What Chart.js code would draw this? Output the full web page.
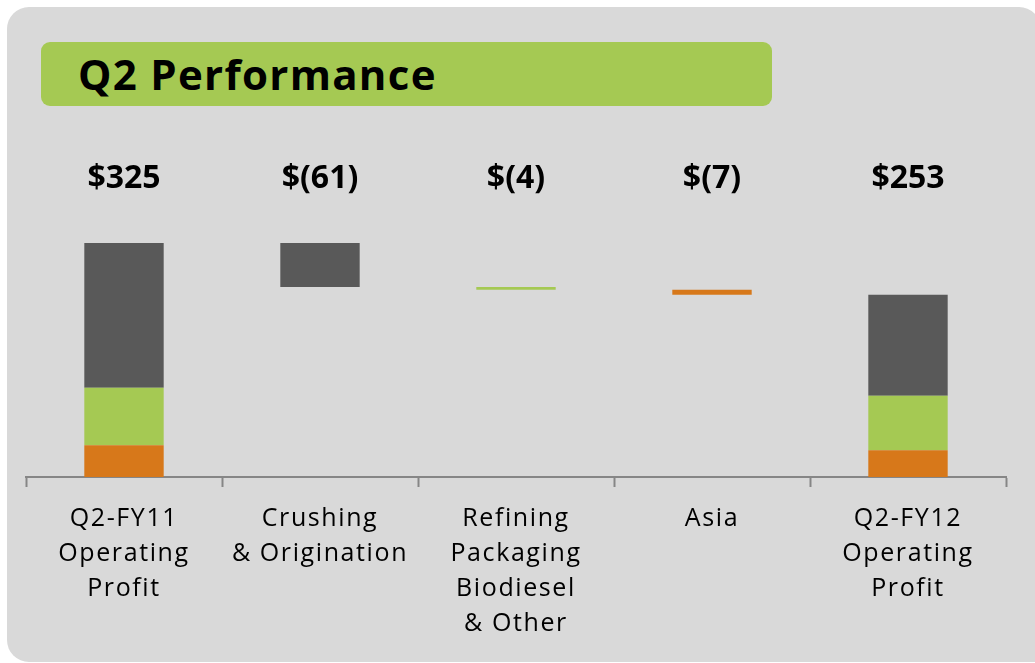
<!DOCTYPE html>
<html>
<head>
<meta charset="utf-8">
<script src="https://cdn.jsdelivr.net/npm/chart.js@4"></script>
<style>
  html, body { margin: 0; padding: 0; background: #ffffff; }
  body { width: 1035px; height: 663px; position: relative; overflow: hidden; font-family: "Open Sans", sans-serif; }
  #panel { position: absolute; left: 7px; top: 7px; width: 1034px; height: 655px; background: #d9d9d9; border-radius: 22px 22px 4px 22px; }
  #titleBox { position: absolute; left: 41px; top: 42px; width: 731px; height: 64px; background: #a5c953; border-radius: 9px; }
  #titleText { position: absolute; left: 37px; top: 0; line-height: 64px; font-size: 42px; font-weight: 700; letter-spacing: 1.3px; color: #000; white-space: nowrap; }
  #wrap { position: absolute; left: 0; top: 0; width: 1035px; height: 663px; }
</style>
</head>
<body>
<div id="panel"></div>
<div id="titleBox"><div id="titleText">Q2 Performance</div></div>
<div id="wrap"><canvas id="c" width="1035" height="663"></canvas></div>
<script>
// ---- data ----
const categories = [
  ["Q2-FY11", "Operating", "Profit"],
  ["Crushing", "& Origination"],
  ["Refining", "Packaging", "Biodiesel", "& Other"],
  ["Asia"],
  ["Q2-FY12", "Operating", "Profit"]
];
// segment order: Asia, Refining Packaging Biodiesel & Other, Crushing & Origination
const segmentNames = ["Asia", "Refining Packaging Biodiesel & Other", "Crushing & Origination"];
const fy11Segments = [44, 80, 201];   // total 325
const fy12Segments = [37, 76, 140];   // total 253
const changes = [-61, -4, -7];        // Crushing, Refining, Asia
const valueLabels = ["$325", "$(61)", "$(4)", "$(7)", "$253"];
const segmentColors = ["#d7781a", "#a5c953", "#595959"];

// ---- build floating bar table ----
const fy11Total = fy11Segments.reduce((a, b) => a + b, 0);
const changeSegment = [2, 1, 0];
const datasets = segmentNames.map((name, s) => ({
  label: name,
  data: new Array(categories.length).fill(null),
  backgroundColor: segmentColors[s],
  borderWidth: 0
}));
let base = 0;
fy11Segments.forEach((v, s) => { datasets[s].data[0] = [base, base + v]; base += v; });
let level = fy11Total;
changes.forEach((d, i) => {
  const s = changeSegment[i];
  datasets[s].data[i + 1] = [level + d, level];
  level += d;
});
base = 0;
fy12Segments.forEach((v, s) => { datasets[s].data[4] = [base, base + v]; base += v; });

const spacingPlugin = {
  id: 'spacing',
  beforeDraw(chart) { chart.ctx.letterSpacing = '1.6px'; }
};

const valueLabelPlugin = {
  id: 'valueLabels',
  afterDatasetsDraw(chart) {
    const ctx = chart.ctx;
    const xs = chart.scales.x;
    ctx.save();
    ctx.letterSpacing = '0px';
    ctx.font = 'bold 32px "Open Sans"';
    ctx.fillStyle = '#000';
    ctx.textAlign = 'center';
    ctx.textBaseline = 'middle';
    valueLabels.forEach((t, i) => {
      ctx.fillText(t, xs.getPixelForValue(i), 179);
    });
    ctx.restore();
  }
};

new Chart(document.getElementById('c'), {
  type: 'bar',
  data: { labels: categories, datasets: datasets },
  options: {
    responsive: false,
    animation: false,
    events: [],
    layout: { padding: { left: 26, right: 29, top: 189, bottom: 0 } },
    datasets: { bar: { grouped: false, categoryPercentage: 1, barPercentage: 0.405 } },
    plugins: { legend: { display: false }, tooltip: { enabled: false }, title: { display: false } },
    scales: {
      x: {
        grid: { display: true, drawOnChartArea: false, drawTicks: true, tickLength: 10, tickWidth: 2, tickColor: '#868686', offset: true },
        border: { display: true, color: '#868686', width: 2 },
        ticks: { color: '#000', font: { family: '"Open Sans"', size: 25, lineHeight: 1.4 }, padding: 14, maxRotation: 0, autoSkip: false },
        afterFit: (scale) => { scale.height = 186; }
      },
      y: {
        display: false,
        min: 0,
        max: 400
      }
    }
  },
  plugins: [spacingPlugin, valueLabelPlugin]
});
</script>
</body>
</html>
